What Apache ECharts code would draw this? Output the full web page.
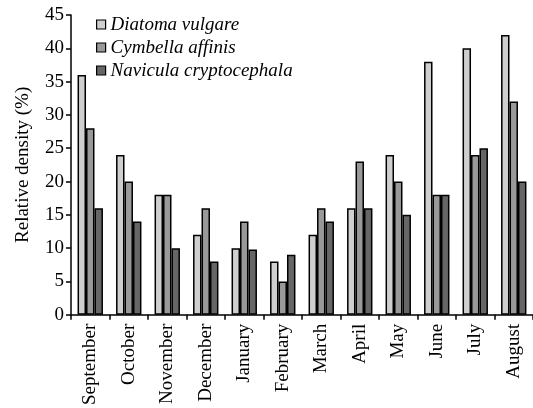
<!DOCTYPE html>
<html>
<head>
<meta charset="utf-8">
<script src="https://cdn.jsdelivr.net/npm/echarts@6/dist/echarts.min.js"></script>
<style>html,body{margin:0;padding:0;background:#fff}#c{width:533px;height:408px}</style>
</head>
<body>
<div id="c"></div>
<script>
var categories = ['September','October','November','December','January','February','March','April','May','June','July','August'];
var diatoma = [36, 24, 18, 12, 10, 8, 12, 16, 24, 38, 40, 42];
var cymbella = [28, 20, 18, 16, 14, 5, 16, 23, 20, 18, 24, 32];
var navicula = [16, 14, 10, 8, 9.8, 9, 14, 16, 15, 18, 25, 20];
var seriesNames = ['Diatoma vulgare', 'Cymbella affinis', 'Navicula cryptocephala'];
var yTicks = {min: 0, max: 45, interval: 5};

var font = 'Liberation Serif, Times New Roman, serif';
var colors = ['#cfcfcf', '#999999', '#666666'];
var chart = echarts.init(document.getElementById('c'));
function mk(name, data, i) {
  return {
    name: name, type: 'bar', data: data,
    barGap: '0%', barCategoryGap: '34%',
    itemStyle: {color: colors[i], borderColor: '#000', borderWidth: 1.5},
    animation: false
  };
}
chart.setOption({
  animation: false,
  grid: {left: 71, right: 0, top: 15, bottom: 93},
  legend: {
    orient: 'vertical', left: 96, top: 15, padding: 0,
    itemWidth: 9, itemHeight: 9, itemGap: 4,
    icon: 'rect',
    itemStyle: {borderColor: '#000', borderWidth: 1.2},
    textStyle: {fontFamily: font, fontStyle: 'italic', fontSize: 19, lineHeight: 19, color: '#000'},
    data: seriesNames
  },
  xAxis: {
    type: 'category', data: categories,
    axisLine: {lineStyle: {color: '#000', width: 1.5}},
    axisTick: {show: true, interval: 0, length: 5, lineStyle: {color: '#000', width: 1.5}},
    axisLabel: {rotate: 90, interval: 0, margin: 9, fontFamily: font, fontSize: 19, color: '#000'}
  },
  yAxis: {
    type: 'value', min: yTicks.min, max: yTicks.max, interval: yTicks.interval,
    name: 'Relative density (%)', nameLocation: 'middle', nameGap: 38,
    nameTextStyle: {fontFamily: font, fontSize: 19, color: '#000'},
    axisLine: {show: true, lineStyle: {color: '#000', width: 1.5}},
    axisTick: {show: true, length: 5, lineStyle: {color: '#000', width: 1.5}},
    axisLabel: {margin: 7, fontFamily: font, fontSize: 19, color: '#000'},
    splitLine: {show: false}
  },
  series: [mk(seriesNames[0], diatoma, 0), mk(seriesNames[1], cymbella, 1), mk(seriesNames[2], navicula, 2)]
});
</script>
</body>
</html>
